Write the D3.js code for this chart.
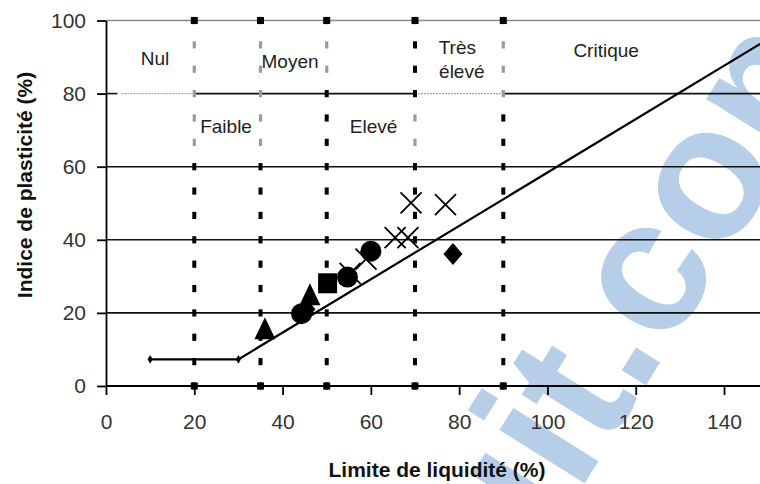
<!DOCTYPE html>
<html>
<head>
<meta charset="utf-8">
<script src="https://cdn.jsdelivr.net/npm/d3@7"></script>
<style>
  html, body { margin: 0; padding: 0; background: #fff; }
  svg { display: block; }
</style>
</head>
<body>
<svg id="chart" width="760" height="484"></svg>
<script>
// ---------- data ----------
const xTicks = [0, 20, 40, 60, 80, 100, 120, 140];
const yTicks = [0, 20, 40, 60, 80, 100];
const zoneBounds = [20, 35, 50, 70, 90];
// ranges (in PI units) of each boundary line drawn in grey
const zoneGrey = [[62, 98], [62, 98], [82, 98], [62, 78], [78, 98]];
const zoneNames = ["Nul", "Moyen", "Faible", "Elevé", "Très", "élevé", "Critique"];
const zoneLL   = [11.1, 41.7, 27.2, 60.6, 79.6, 80.6, 113.3];
const zonePI   = [87.8, 87.0, 69.2, 69.2, 90.8, 84.3, 89.9];
const aLineLL = [10, 30, 150];
const aLinePI = [7.3, 7.3, 94.9];
const triLL = [36, 46.2];      const triPI = [15, 24.3];
const circLL = [44.3, 54.7, 60]; const circPI = [19.8, 29.8, 36.9];
const diaLL = [45.3, 78.6];    const diaPI = [21, 36.1];
const sqLL = [50.2];           const sqPI = [28.1];
const crossLL = [55.3, 58.9, 65.5, 68.4, 69.1, 76.9];
const crossPI = [30.8, 34.7, 40.6, 40.6, 50.1, 49.6];

// ---------- layout ----------
const svg = d3.select("#chart");
const x = d3.scaleLinear().domain([0, 140]).range([106, 724]);
const y = d3.scaleLinear().domain([0, 100]).range([386, 20.5]);
const xMax = x.invert(760);

// watermark (behind everything)
svg.append("text")
  .attr("transform", "translate(516,593) rotate(-58)")
  .attr("font-family", "Liberation Sans, Arial, sans-serif")
  .attr("font-weight", "bold")
  .attr("font-size", 190)
  .attr("fill", "#b6cee8")
  .text("uit.com");

// horizontal gridlines
const g = svg.append("g");
yTicks.filter(d => d > 0 && d !== 80).forEach(v => {
  g.append("line")
    .attr("x1", x(0)).attr("x2", x(xMax))
    .attr("y1", y(v)).attr("y2", y(v))
    .attr("stroke", v === 100 ? "#8a8a8a" : "#111")
    .attr("stroke-width", 1.6);
});
// y = 80 line: black parts and grey dotted parts
[[0, 2.6, "k"], [3.5, 20, "g"], [20, 70, "k"], [70, 90, "g"], [90, xMax, "k"]].forEach(s => {
  g.append("line")
    .attr("x1", x(s[0])).attr("x2", x(s[1]))
    .attr("y1", y(80)).attr("y2", y(80))
    .attr("stroke", s[2] === "k" ? "#111" : "#a8a8a8")
    .attr("stroke-width", s[2] === "k" ? 1.6 : 1.4)
    .attr("stroke-dasharray", s[2] === "k" ? null : "2,1");
});

// zone boundary dashed lines
const step = 20 / 3;
zoneBounds.forEach((b, i) => {
  const gr = zoneGrey[i];
  for (let k = 0; k <= 15; k++) {
    const v = 100 - k * step;
    const grey = v > gr[0] && v < gr[1];
    g.append("line")
      .attr("x1", x(b)).attr("x2", x(b))
      .attr("y1", y(v) - 3.6).attr("y2", y(v) + 3.6)
      .attr("stroke", grey ? "#9a9a9a" : "#000")
      .attr("stroke-width", grey ? 3.2 : 4);
  }
});

// axes
const yAxis = d3.axisLeft(y).tickValues(yTicks).tickSize(9).tickPadding(11).tickSizeOuter(0);
const xAxis = d3.axisBottom(x).tickValues(xTicks).tickSize(9).tickPadding(19).tickSizeOuter(0);
const ya = svg.append("g").attr("transform", `translate(${x(0)},0)`).call(yAxis);
const xa = svg.append("g").attr("transform", `translate(0,${y(0)})`).call(xAxis);
xa.select(".domain").attr("d", `M${x(0)},0H760`);
[ya, xa].forEach(a => {
  a.select(".domain").attr("stroke", "#000").attr("stroke-width", 1.8);
  a.selectAll(".tick line").attr("stroke", "#000").attr("stroke-width", 1.8);
  a.selectAll(".tick text")
    .attr("font-family", "Liberation Sans, Arial, sans-serif")
    .attr("font-size", 21)
    .attr("fill", "#333");
});

// zone labels
zoneNames.forEach((t, i) => {
  svg.append("text")
    .attr("x", x(zoneLL[i])).attr("y", y(zonePI[i]))
    .attr("text-anchor", "middle")
    .attr("font-family", "Liberation Sans, Arial, sans-serif")
    .attr("font-size", 19)
    .attr("fill", "#222")
    .text(t);
});

// A-line
const aPts = aLineLL.map((d, i) => [d, aLinePI[i]]);
svg.append("path")
  .attr("d", d3.line().x(d => x(d[0])).y(d => y(d[1]))(aPts))
  .attr("fill", "none").attr("stroke", "#000").attr("stroke-width", 2.2);
svg.selectAll(".aend").data(aPts.slice(0, 2)).join("path")
  .attr("transform", d => `translate(${x(d[0])},${y(d[1])})`)
  .attr("d", d3.symbol(d3.symbolDiamond, 22)())
  .attr("fill", "#000");

// end markers of zone lines
zoneBounds.forEach(b => {
  [0, 100].forEach(v => {
    svg.append("rect")
      .attr("x", x(b) - 3.5).attr("y", y(v) - 3.5)
      .attr("width", 7).attr("height", 7).attr("fill", "#000");
  });
});

// data markers
const pts = (a, b) => a.map((d, i) => [d, b[i]]);
const m = svg.append("g");
m.selectAll(".tri").data(pts(triLL, triPI)).join("path")
  .attr("d", d => {
    const cx = x(d[0]), cy = y(d[1]);
    return `M${cx},${cy - 14}L${cx + 10.5},${cy + 8}L${cx - 10.5},${cy + 8}Z`;
  }).attr("fill", "#000");
m.selectAll(".circ").data(pts(circLL, circPI)).join("circle")
  .attr("cx", d => x(d[0])).attr("cy", d => y(d[1])).attr("r", 10.5).attr("fill", "#000");
m.selectAll(".dia").data(pts(diaLL, diaPI)).join("path")
  .attr("d", d => {
    const cx = x(d[0]), cy = y(d[1]);
    return `M${cx},${cy - 11}L${cx + 9.5},${cy}L${cx},${cy + 11}L${cx - 9.5},${cy}Z`;
  }).attr("fill", "#000");
m.selectAll(".sq").data(pts(sqLL, sqPI)).join("rect")
  .attr("x", d => x(d[0]) - 9.5).attr("y", d => y(d[1]) - 10)
  .attr("width", 19).attr("height", 20).attr("fill", "#000");
m.selectAll(".cross").data(pts(crossLL, crossPI)).join("path")
  .attr("d", d => {
    const cx = x(d[0]), cy = y(d[1]), h = 10.5;
    return `M${cx - h},${cy - h}L${cx + h},${cy + h}M${cx + h},${cy - h}L${cx - h},${cy + h}`;
  }).attr("stroke", "#000").attr("stroke-width", 1.8).attr("fill", "none");

// axis titles
svg.append("text")
  .attr("x", 437).attr("y", 477)
  .attr("text-anchor", "middle")
  .attr("font-family", "Liberation Sans, Arial, sans-serif")
  .attr("font-weight", "bold").attr("font-size", 21)
  .attr("fill", "#111")
  .text("Limite de liquidité (%)");
svg.append("text")
  .attr("transform", "translate(32,185) rotate(-90)")
  .attr("text-anchor", "middle")
  .attr("font-family", "Liberation Sans, Arial, sans-serif")
  .attr("font-weight", "bold").attr("font-size", 21)
  .attr("fill", "#111")
  .text("Indice de plasticité (%)");
</script>
</body>
</html>
